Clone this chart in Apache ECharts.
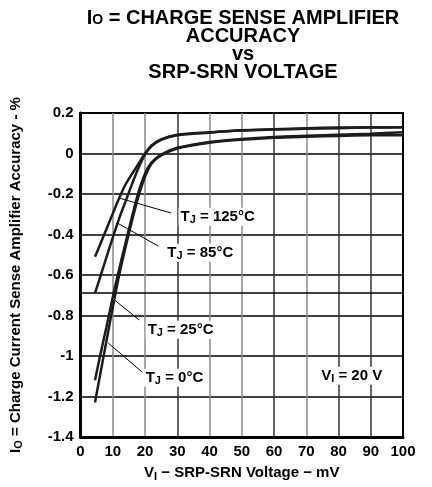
<!DOCTYPE html>
<html>
<head>
<meta charset="utf-8">
<script src="https://cdn.jsdelivr.net/npm/echarts@6/dist/echarts.min.js"></script>
<style>
html, body { margin: 0; padding: 0; background: #fff; }
#chart { width: 432px; height: 487px; }
</style>
</head>
<body>
<div id="chart"></div>
<script>
// V_I - SRP-SRN voltage (mV), shared by all curves
var vin = [4.5, 6, 8, 10, 12, 14, 16, 18, 20, 22, 25, 30, 40, 50, 60, 70, 80, 90, 100];
// accuracy (%) for each junction temperature
var acc125 = [-0.51, -0.453, -0.375, -0.297, -0.22, -0.152, -0.1, -0.05, 0.0, 0.04, 0.07, 0.093, 0.105, 0.115, 0.12, 0.125, 0.128, 0.13, 0.13];
var acc85 = [-0.69, -0.615, -0.515, -0.415, -0.32, -0.235, -0.15, -0.07, -0.005, 0.035, 0.068, 0.09, 0.103, 0.113, 0.118, 0.122, 0.125, 0.128, 0.13];
var acc25 = [-1.12, -1.005, -0.86, -0.71, -0.57, -0.44, -0.31, -0.19, -0.1, -0.045, -0.005, 0.028, 0.057, 0.072, 0.082, 0.088, 0.093, 0.098, 0.105];
var acc0 = [-1.23, -1.1, -0.93, -0.76, -0.6, -0.46, -0.33, -0.21, -0.115, -0.05, -0.01, 0.025, 0.053, 0.068, 0.078, 0.083, 0.087, 0.09, 0.09];

var xTicks = [0, 10, 20, 30, 40, 50, 60, 70, 80, 90, 100];
var yTicks = [0.2, 0, -0.2, -0.4, -0.6, -0.8, -1, -1.2, -1.4];

var FONT = "'Liberation Sans', Arial, Helvetica, sans-serif";

// rich styles for text with a subscript
function richStyles(size) {
  return {
    t: { fontFamily: FONT, fontWeight: "bold", fontSize: size, lineHeight: 18, color: "#000" },
    s: { fontFamily: FONT, fontWeight: "bold", fontSize: Math.round(size * 0.7), lineHeight: 10, verticalAlign: "bottom", color: "#000" },
  };
}

// leader line + label for every curve (annotation, in data coords)
function annotate(labelText, from, to, at) {
  return {
    markLine: {
      silent: true,
      symbol: ["none", "none"],
      animation: false,
      label: { show: false },
      lineStyle: { color: "#000", width: 1, type: "solid" },
      data: [[{ coord: from }, { coord: to }]],
    },
    markPoint: {
      silent: true,
      symbol: "circle",
      symbolSize: 0,
      animation: false,
      itemStyle: { color: "transparent" },
      label: {
        show: true,
        position: "right",
        distance: 0,
        backgroundColor: "#fff",
        padding: [0, 2],
        formatter: labelText,
        rich: richStyles(15),
      },
      data: [{ coord: at }],
    },
  };
}

function makeSeries(name, ys, ann) {
  var s = {
    name: name,
    type: "line",
    data: vin.map(function (v, i) { return [v, ys[i]]; }),
    smooth: 0.3,
    symbol: "none",
    z: 5,
    lineStyle: { color: "#1c1c1c", width: 2.5 },
  };
  s.markLine = ann.markLine;
  s.markPoint = ann.markPoint;
  return s;
}

var s125 = makeSeries("125", acc125, annotate("{t|T}{s|J}{t| = 125°C}", [12, -0.22], [28.1, -0.294], [30.4, -0.312]));
var s85 = makeSeries("85", acc85, annotate("{t|T}{s|J}{t| = 85°C}", [11.4, -0.343], [24.1, -0.457], [26.3, -0.49]));
var s25 = makeSeries("25", acc25, annotate("{t|T}{s|J}{t| = 25°C}", [10.5, -0.723], [18.2, -0.822], [20.2, -0.87]));
var s0 = makeSeries("0", acc0, annotate("{t|T}{s|J}{t| = 0°C}", [8.6, -0.936], [19.1, -1.079], [19.6, -1.107]));
// V_I = 20 V note
s0.markPoint.data.push({ coord: [74, -1.097], label: { formatter: "{t|V}{s|I}{t| = 20 V}" } });
// odd extra grid line from the original sheet
s125.markLine.data.push({ yAxis: -0.685, lineStyle: { color: "#000", width: 1.5 } });

var chart = echarts.init(document.getElementById("chart"));

var option = {
  animation: false,
  backgroundColor: "#fff",
  graphic: [
    {
      type: "text",
      x: 243,
      y: 9,
      style: {
        text: "{b|I}{s|O}{b| = CHARGE SENSE AMPLIFIER}\n{b|ACCURACY}\n{b|vs}\n{b|SRP-SRN VOLTAGE}",
        align: "center",
        verticalAlign: "top",
        rich: {
          b: { fontFamily: FONT, fontWeight: "bold", fontSize: 20, lineHeight: 18, fill: "#000" },
          s: { fontFamily: FONT, fontWeight: "bold", fontSize: 14, lineHeight: 10, verticalAlign: "bottom", fill: "#000" },
        },
      },
    },
  ],
  grid: {
    left: 79,
    right: 29,
    top: 113,
    bottom: 50,
    show: true,
    borderColor: "#000",
    borderWidth: 2,
  },
  xAxis: {
    type: "value",
    min: xTicks[0],
    max: xTicks[xTicks.length - 1],
    interval: 10,
    name: "{t|V}{s|I}{t| − SRP-SRN Voltage − mV}",
    nameLocation: "middle",
    nameGap: 27,
    nameTextStyle: { rich: richStyles(15) },
    axisLine: { onZero: false, lineStyle: { color: "#000", width: 3 } },
    axisTick: { show: false },
    axisLabel: { color: "#000", fontFamily: FONT, fontWeight: "bold", fontSize: 15, margin: 7 },
    splitLine: {
      show: true,
      lineStyle: {
        width: 1.5,
        color: ["#000", "#888", "#888", "#333", "#888", "#888", "#333", "#888", "#333", "#333", "#000"],
      },
    },
  },
  yAxis: {
    type: "value",
    min: yTicks[yTicks.length - 1],
    max: yTicks[0],
    interval: 0.2,
    name: "{t|I}{s|O}{t| = Charge Current Sense Amplifier Accuracy - %}",
    nameLocation: "middle",
    nameGap: 56,
    nameRotate: 90,
    nameTextStyle: { rich: richStyles(15) },
    axisLine: { show: true, onZero: false, lineStyle: { color: "#000", width: 3 } },
    axisTick: { show: false },
    axisLabel: {
      color: "#000",
      fontFamily: FONT,
      fontWeight: "bold",
      fontSize: 15,
      margin: 7,
      formatter: function (v) { return String(+v.toFixed(1)); },
    },
    splitLine: { show: true, lineStyle: { color: "#000", width: 1.5 } },
  },
  series: [s125, s85, s25, s0],
};

chart.setOption(option);
</script>
</body>
</html>
